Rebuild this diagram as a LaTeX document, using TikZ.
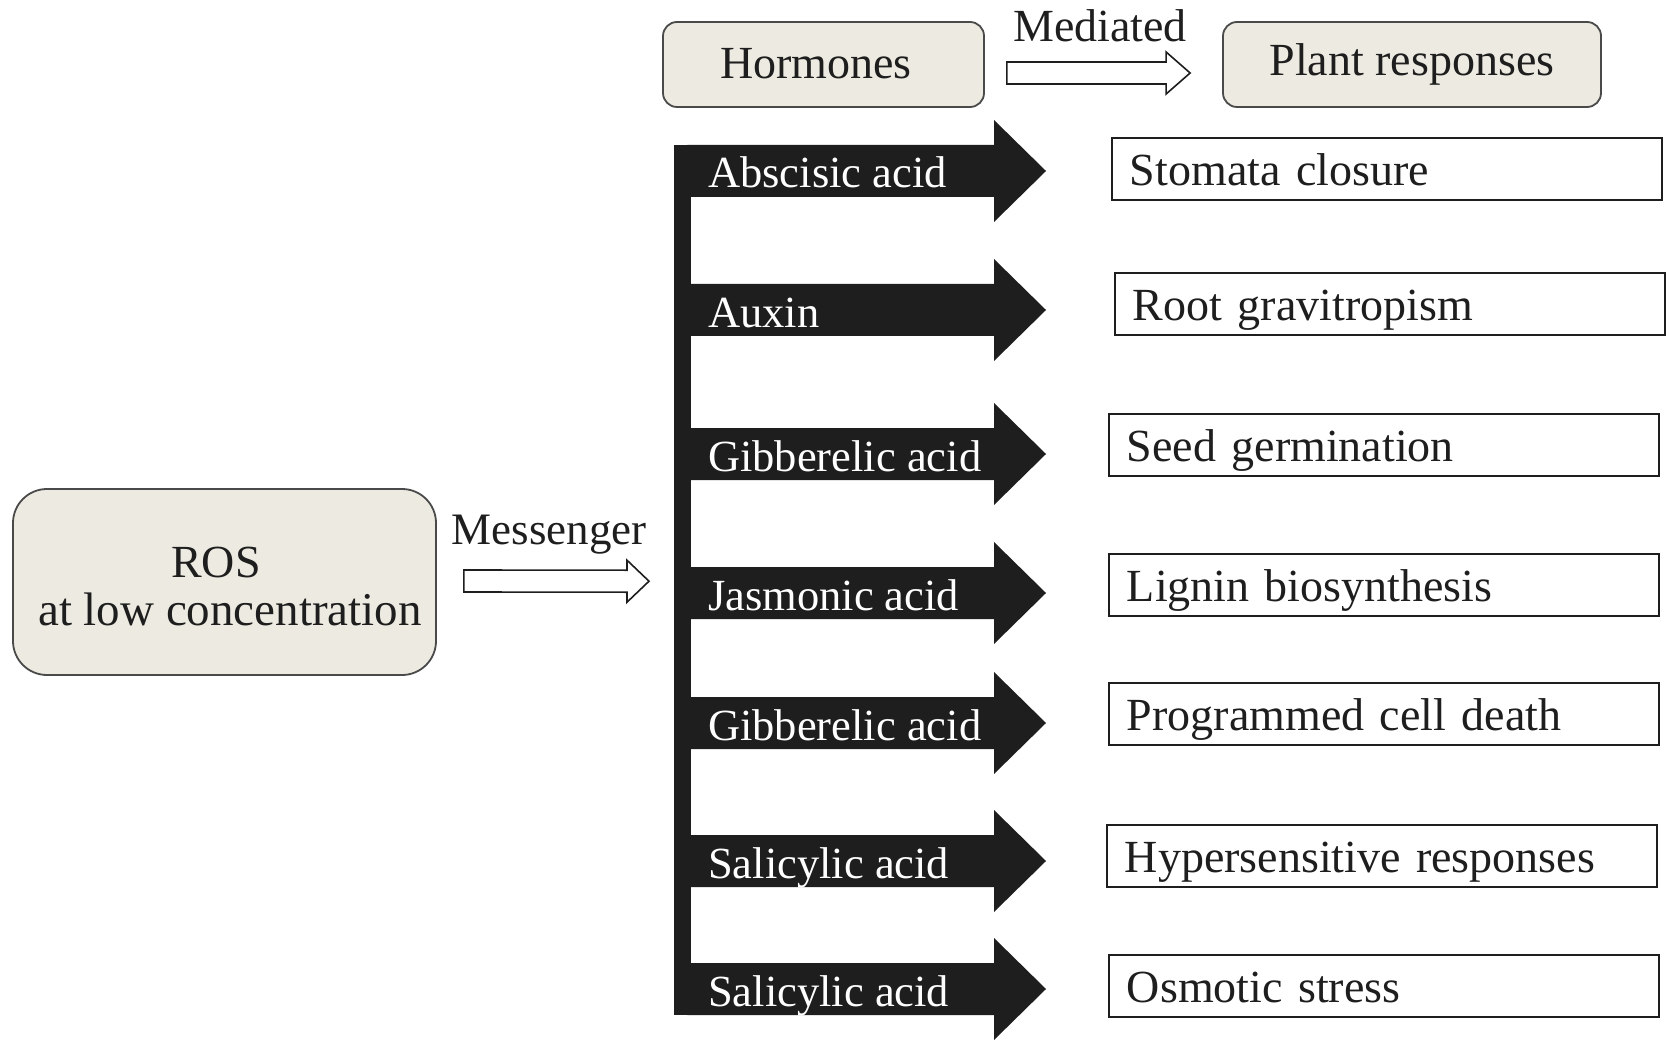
\documentclass[tikz,border=0pt]{standalone}
\usepackage{fontspec}
\setmainfont{Liberation Serif}
\usetikzlibrary{calc}
\definecolor{beige}{HTML}{EDEBE1}
\definecolor{edge}{HTML}{4A4A4A}
\definecolor{ink}{HTML}{1E1E1E}
\begin{document}
\begin{tikzpicture}[x=1pt,y=-1pt,
  every node/.style={font=\fontsize{46}{48}\selectfont, text=ink, inner sep=0pt},
  softbox/.style={draw=edge, line width=1.8pt, fill=beige, rounded corners=#1},
  respbox/.style={draw=ink, line width=1.8pt, fill=white, anchor=west,
    minimum height=62pt, text width=514pt, inner xsep=18pt, inner ysep=0pt,
    align=left, text height=33pt, text depth=0pt},
  hollow/.style={draw=ink, line width=1.6pt, fill=white, line join=miter},
  blackarrow/.style={fill=ink},
  hormtext/.style={anchor=base west, text=white, font=\fontsize{44.5}{48}\selectfont},
  ]
\useasboundingbox (0,0) rectangle (1667,1040);

% top boxes
\node[softbox=14pt, minimum width=321pt, minimum height=85pt] (horm) at (823.5,64.5) {};
\node[anchor=base] (hormlab) at (816,79) {Hormones};
\node[softbox=14pt, minimum width=378pt, minimum height=85pt] (plant) at (1412,64.5) {Plant responses};
\node[anchor=base] (medlab) at (1100,42) {Mediated};

% ROS box
\node[softbox=34pt, minimum width=423pt, minimum height=186pt] (ros) at (224.5,582) {};
\node[anchor=base] (roslab) at (216,577) {ROS};
\node[anchor=base, font=\fontsize{47}{48}\selectfont] (conclab) at (230,625) {at low concentration};
\node[anchor=base, font=\fontsize{45}{48}\selectfont] (meslab) at (549,544) {Messenger};

% vertical bar
\node[fill=ink, minimum width=17pt, minimum height=870pt, anchor=north west] (bar) at (674,145) {};

% hollow arrow: Hormones -> Plant responses
\coordinate (ma) at ($(horm.east)+(22,8.5)$);
\coordinate (mb) at ($(plant.west)+(-32,8.5)$);
\draw[hollow] ($(ma)+(0,-11)$) -- ($(mb)+(-24,-11)$) -- ($(mb)+(-24,-21)$) -- (mb)
  -- ($(mb)+(-24,21)$) -- ($(mb)+(-24,11)$) -- ($(ma)+(0,11)$) -- cycle;

% hollow arrow: ROS -> bar
\coordinate (sa) at ($(ros.east)+(27,-1)$);
\coordinate (sb) at ($(bar.west)+(-25,1)$);
\draw[hollow] ($(sa)+(0,-11)$) -- ($(sb)+(-22,-11)$) -- ($(sb)+(-22,-21)$) -- (sb)
  -- ($(sb)+(-22,21)$) -- ($(sb)+(-22,11)$) -- ($(sa)+(0,11)$) -- cycle;

% hormone arrows and responses
\foreach \c/\h/\r/\by/\bx [count=\i] in {
  171/Abscisic acid/Stomata closure/169/1111,
  310/Auxin/Root gravitropism/304/1114,
  454/Gibberelic acid/Seed germination/445/1108,
  593/Jasmonic acid/Lignin biosynthesis/585/1108,
  723/Gibberelic acid/Programmed cell death/714/1108,
  861/Salicylic acid/Hypersensitive responses/856/1106,
  989/Salicylic acid/Osmotic stress/986/1108}{
  \coordinate (t\i) at (1046,\c);
  \fill[blackarrow] ($(bar.east |- t\i)+(-4,-26)$) -- ($(t\i)+(-52,-26)$) -- ($(t\i)+(-52,-51)$) -- (t\i)
    -- ($(t\i)+(-52,51)$) -- ($(t\i)+(-52,26)$) -- ($(bar.east |- t\i)+(-4,26)$) -- cycle;
  \node[hormtext] (h\i) at (708,\c+17) {\h};
  \node[respbox] (r\i) at (\bx,\by) {\r};
}
\end{tikzpicture}
\end{document}
